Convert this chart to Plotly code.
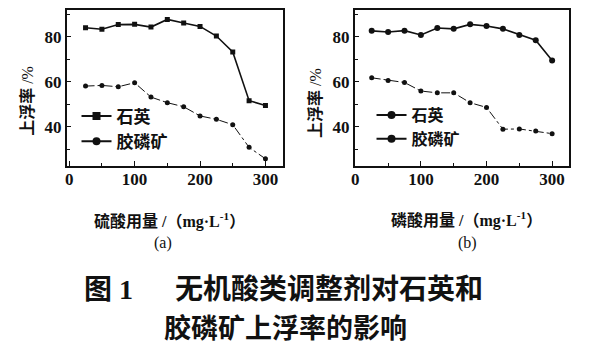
import plotly.graph_objects as go

W, H = 597, 348

dose = [25, 50, 75, 100, 125, 150, 175, 200, 225, 250, 275, 300]
quartz_a = [84.1, 83.4, 85.5, 85.6, 84.4, 87.8, 86.2, 84.7, 80.4, 73.3, 51.6, 49.5]
apatite_a = [58.1, 58.4, 57.8, 59.6, 53.2, 50.7, 48.9, 44.8, 43.3, 40.9, 30.8, 25.7]
quartz_b = [82.7, 82.2, 82.8, 80.9, 84.0, 83.6, 85.6, 84.9, 83.6, 80.9, 78.5, 69.5]
apatite_b = [61.8, 60.6, 59.7, 55.9, 55.1, 55.1, 50.7, 48.6, 38.9, 39.0, 38.1, 36.9]

x_ticks = [0, 100, 200, 300]
x_tick_text = ["0", "100", "200", "300"]
y_ticks = [40, 60, 80]
y_tick_text = ["40", "60", "80"]

names = ["石英", "胶磷矿"]
y_title = "<b>上浮率</b> /%"
x_title_a = "<b>硫酸用量 /（mg·L<sup>-1</sup>）</b>"
x_title_b = "<b>磷酸用量 /（mg·L<sup>-1</sup>）</b>"
panel_a = "(a)"
panel_b = "(b)"
title_1 = "<b>图 1\u00a0\u3000\u00a0无机酸类调整剂对石英和</b>"
title_2 = "<b>胶磷矿上浮率的影响</b>"

CJK = "Noto Sans CJK SC"
MIX = "Liberation Serif, Noto Sans CJK SC"
BLACK = "#111111"

def px(x):
    return x / W

def py(y):
    return 1 - y / H

fig = go.Figure()

# panel a
fig.add_trace(go.Scatter(x=dose, y=quartz_a, mode="lines+markers", xaxis="x", yaxis="y",
                         line=dict(color=BLACK, width=1.6),
                         marker=dict(symbol="square", size=5, color=BLACK), showlegend=False))
fig.add_trace(go.Scatter(x=dose, y=apatite_a, mode="lines+markers", xaxis="x", yaxis="y",
                         line=dict(color=BLACK, width=1, dash="dashdot"),
                         marker=dict(symbol="circle", size=5, color=BLACK), showlegend=False))
# panel b
fig.add_trace(go.Scatter(x=dose, y=quartz_b, mode="lines+markers", xaxis="x2", yaxis="y2",
                         line=dict(color=BLACK, width=1.6),
                         marker=dict(symbol="circle", size=6, color=BLACK), showlegend=False))
fig.add_trace(go.Scatter(x=dose, y=apatite_b, mode="lines+markers", xaxis="x2", yaxis="y2",
                         line=dict(color=BLACK, width=1, dash="dashdot"),
                         marker=dict(symbol="circle", size=5, color=BLACK), showlegend=False))

# legend proxies (legend: panel a, legend2: panel b)
leg_specs = [
    ("legend", names[0], "square", "x", "y"),
    ("legend", names[1], "circle", "x", "y"),
    ("legend2", names[0], "circle", "x2", "y2"),
    ("legend2", names[1], "circle", "x2", "y2"),
]
for lg, nm, sym, xa, ya in leg_specs:
    fig.add_trace(go.Scatter(x=[None], y=[None], mode="lines+markers", name=nm, legend=lg,
                             xaxis=xa, yaxis=ya,
                             line=dict(color=BLACK, width=2),
                             marker=dict(symbol=sym, size=8, color=BLACK)))

axis_common = dict(
    showline=True, linecolor=BLACK, linewidth=1.5, mirror=True,
    showgrid=False, zeroline=False,
    ticks="inside", ticklen=5, tickcolor=BLACK, tickwidth=1.2,
    tickfont=dict(family="Liberation Serif", size=17, color=BLACK, weight="bold"),
)

fig.update_layout(
    width=W, height=H,
    margin=dict(l=0, r=0, t=0, b=0),
    paper_bgcolor="white", plot_bgcolor="white",
    xaxis=dict(domain=[px(63), px(281)], range=[-4, 327], anchor="y",
               tickvals=x_ticks, ticktext=x_tick_text, ticklabelstandoff=-3,
               minor=dict(tickvals=[50, 150, 250], ticks="inside", ticklen=3, tickcolor=BLACK),
               **axis_common),
    yaxis=dict(domain=[py(166), py(10)], range=[22.5, 92], anchor="x",
               tickvals=y_ticks, ticktext=y_tick_text,
               minor=dict(tickvals=[30, 50, 70, 90], ticks="inside", ticklen=4, tickcolor=BLACK),
               **axis_common),
    xaxis2=dict(domain=[px(353), px(569)], range=[-1, 326], anchor="y2",
                tickvals=x_ticks, ticktext=x_tick_text, ticklabelstandoff=-3,
                minor=dict(tickvals=[50, 150, 250], ticks="inside", ticklen=3, tickcolor=BLACK),
                **axis_common),
    yaxis2=dict(domain=[py(166), py(10)], range=[22.5, 92], anchor="x2",
                tickvals=y_ticks, ticktext=y_tick_text,
                minor=dict(tickvals=[30, 50, 70, 90], ticks="inside", ticklen=4, tickcolor=BLACK),
                **axis_common),
)

fig.update_layout(
    legend=dict(x=px(73), y=py(129), xref="paper", yref="paper",
                xanchor="left", yanchor="middle", bgcolor="rgba(0,0,0,0)",
                font=dict(family=CJK, size=17, color=BLACK, weight="bold"),
                borderwidth=0, tracegroupgap=0),
    legend2=dict(x=px(370), y=py(127), xref="paper", yref="paper",
                 xanchor="left", yanchor="middle", bgcolor="rgba(0,0,0,0)",
                 font=dict(family=CJK, size=16, color=BLACK, weight="bold"),
                 borderwidth=0, tracegroupgap=0),
)

def ann(text, x, y, size, angle=0, family=MIX):
    fig.add_annotation(text=text, x=px(x), y=py(y), xref="paper", yref="paper",
                       xanchor="center", yanchor="middle", showarrow=False, textangle=angle,
                       font=dict(family=family, size=size, color=BLACK), borderpad=0)

ann(y_title, 23, 101, 16, angle=-90)
ann(y_title, 313, 103, 16, angle=-90)
ann(x_title_a, 167, 220, 16)
ann(x_title_b, 466, 219, 16)
ann(panel_a, 160, 243, 16)
ann(panel_b, 467, 243, 16)
ann(title_1, 281, 289, 28)
ann(title_2, 283, 329, 27)

fig.write_html("out.html")
